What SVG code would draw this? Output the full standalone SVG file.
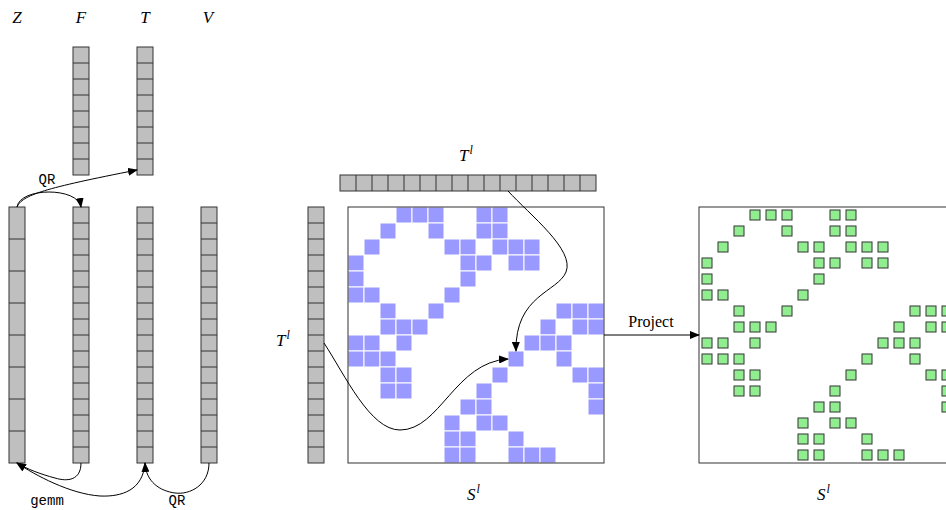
<svg xmlns="http://www.w3.org/2000/svg" width="946" height="510" viewBox="0 0 946 510">
<style>
.col{fill:#bfbfbf;stroke:#333;stroke-width:1}
.sep{stroke:#333;stroke-width:1;fill:none}
.b{fill:#9999ff;stroke:#fff;stroke-width:1}
.g{fill:#90ee90;stroke:#333;stroke-width:1}
.box{fill:none;stroke:#333;stroke-width:1}
.math{font-family:"Liberation Serif",serif;font-style:italic;font-size:17px;fill:#000}
.sup{font-family:"Liberation Serif",serif;font-style:italic;font-size:12px}
.tt{font-family:"Liberation Mono",monospace;font-size:14px;fill:#000}
.rm{font-family:"Liberation Serif",serif;font-size:16px;fill:#000}
.conn{fill:none;stroke:#000;stroke-width:1}
</style>
<defs>
<marker id="ah" markerWidth="10" markerHeight="8" refX="9" refY="4" orient="auto" markerUnits="userSpaceOnUse">
<path d="M0,0 L10,4 L0,8 Z" fill="#000"/>
</marker>
</defs>

<g id="labels-top">
<text class="math" x="17" y="23" text-anchor="middle">Z</text>
<text class="math" x="81" y="23" text-anchor="middle">F</text>
<text class="math" x="145" y="23" text-anchor="middle">T</text>
<text class="math" x="208" y="23" text-anchor="middle">V</text>
</g>

<g id="F-top">
<rect class="col" x="73" y="47" width="16" height="128"/>
<path class="sep" d="M73,63h16M73,79h16M73,95h16M73,111h16M73,127h16M73,143h16M73,159h16"/>
</g>
<g id="T-top">
<rect class="col" x="137" y="47" width="16" height="128"/>
<path class="sep" d="M137,63h16M137,79h16M137,95h16M137,111h16M137,127h16M137,143h16M137,159h16"/>
</g>

<g id="Z">
<rect class="col" x="9" y="207" width="16" height="256"/>
<path class="sep" d="M9,239h16M9,271h16M9,303h16M9,335h16M9,367h16M9,399h16M9,431h16"/>
</g>
<g id="F">
<rect class="col" x="73" y="207" width="16" height="256"/>
<path class="sep" d="M73,223h16M73,239h16M73,255h16M73,271h16M73,287h16M73,303h16M73,319h16M73,335h16M73,351h16M73,367h16M73,383h16M73,399h16M73,415h16M73,431h16M73,447h16"/>
</g>
<g id="T">
<rect class="col" x="137" y="207" width="16" height="256"/>
<path class="sep" d="M137,223h16M137,239h16M137,255h16M137,271h16M137,287h16M137,303h16M137,319h16M137,335h16M137,351h16M137,367h16M137,383h16M137,399h16M137,415h16M137,431h16M137,447h16"/>
</g>
<g id="V">
<rect class="col" x="201" y="207" width="16" height="256"/>
<path class="sep" d="M201,223h16M201,239h16M201,255h16M201,271h16M201,287h16M201,303h16M201,319h16M201,335h16M201,351h16M201,367h16M201,383h16M201,399h16M201,415h16M201,431h16M201,447h16"/>
</g>

<g id="Tl-vertical">
<rect class="col" x="308" y="207" width="16" height="256"/>
<path class="sep" d="M308,223h16M308,239h16M308,255h16M308,271h16M308,287h16M308,303h16M308,319h16M308,335h16M308,351h16M308,367h16M308,383h16M308,399h16M308,415h16M308,431h16M308,447h16"/>
<text class="math" x="276" y="346">T<tspan class="sup" dx="1" dy="-7">l</tspan></text>
</g>
<g id="Tl-horizontal">
<rect class="col" x="340" y="175" width="256" height="16"/>
<path class="sep" d="M356,175v16M372,175v16M388,175v16M404,175v16M420,175v16M436,175v16M452,175v16M468,175v16M484,175v16M500,175v16M516,175v16M532,175v16M548,175v16M564,175v16M580,175v16"/>
<text class="math" x="459" y="161">T<tspan class="sup" dx="1" dy="-7">l</tspan></text>
</g>

<g id="S-sparse">
<g transform="translate(348,207)">
<rect class="b" x="48" y="0" width="16" height="16"/><rect class="b" x="64" y="0" width="16" height="16"/><rect class="b" x="80" y="0" width="16" height="16"/><rect class="b" x="128" y="0" width="16" height="16"/><rect class="b" x="144" y="0" width="16" height="16"/>
<rect class="b" x="32" y="16" width="16" height="16"/><rect class="b" x="80" y="16" width="16" height="16"/><rect class="b" x="128" y="16" width="16" height="16"/><rect class="b" x="144" y="16" width="16" height="16"/>
<rect class="b" x="16" y="32" width="16" height="16"/><rect class="b" x="96" y="32" width="16" height="16"/><rect class="b" x="112" y="32" width="16" height="16"/><rect class="b" x="144" y="32" width="16" height="16"/><rect class="b" x="160" y="32" width="16" height="16"/><rect class="b" x="176" y="32" width="16" height="16"/>
<rect class="b" x="0" y="48" width="16" height="16"/><rect class="b" x="112" y="48" width="16" height="16"/><rect class="b" x="128" y="48" width="16" height="16"/><rect class="b" x="160" y="48" width="16" height="16"/><rect class="b" x="176" y="48" width="16" height="16"/>
<rect class="b" x="0" y="64" width="16" height="16"/><rect class="b" x="112" y="64" width="16" height="16"/>
<rect class="b" x="0" y="80" width="16" height="16"/><rect class="b" x="16" y="80" width="16" height="16"/><rect class="b" x="96" y="80" width="16" height="16"/>
<rect class="b" x="32" y="96" width="16" height="16"/><rect class="b" x="80" y="96" width="16" height="16"/><rect class="b" x="208" y="96" width="16" height="16"/><rect class="b" x="224" y="96" width="16" height="16"/><rect class="b" x="240" y="96" width="16" height="16"/>
<rect class="b" x="32" y="112" width="16" height="16"/><rect class="b" x="48" y="112" width="16" height="16"/><rect class="b" x="64" y="112" width="16" height="16"/><rect class="b" x="192" y="112" width="16" height="16"/><rect class="b" x="224" y="112" width="16" height="16"/><rect class="b" x="240" y="112" width="16" height="16"/>
<rect class="b" x="0" y="128" width="16" height="16"/><rect class="b" x="16" y="128" width="16" height="16"/><rect class="b" x="48" y="128" width="16" height="16"/><rect class="b" x="176" y="128" width="16" height="16"/><rect class="b" x="192" y="128" width="16" height="16"/><rect class="b" x="208" y="128" width="16" height="16"/>
<rect class="b" x="0" y="144" width="16" height="16"/><rect class="b" x="16" y="144" width="16" height="16"/><rect class="b" x="32" y="144" width="16" height="16"/><rect class="b" x="160" y="144" width="16" height="16"/><rect class="b" x="208" y="144" width="16" height="16"/>
<rect class="b" x="32" y="160" width="16" height="16"/><rect class="b" x="48" y="160" width="16" height="16"/><rect class="b" x="144" y="160" width="16" height="16"/><rect class="b" x="224" y="160" width="16" height="16"/><rect class="b" x="240" y="160" width="16" height="16"/>
<rect class="b" x="32" y="176" width="16" height="16"/><rect class="b" x="48" y="176" width="16" height="16"/><rect class="b" x="128" y="176" width="16" height="16"/><rect class="b" x="240" y="176" width="16" height="16"/>
<rect class="b" x="112" y="192" width="16" height="16"/><rect class="b" x="128" y="192" width="16" height="16"/><rect class="b" x="240" y="192" width="16" height="16"/>
<rect class="b" x="96" y="208" width="16" height="16"/><rect class="b" x="128" y="208" width="16" height="16"/><rect class="b" x="144" y="208" width="16" height="16"/>
<rect class="b" x="96" y="224" width="16" height="16"/><rect class="b" x="112" y="224" width="16" height="16"/><rect class="b" x="160" y="224" width="16" height="16"/>
<rect class="b" x="96" y="240" width="16" height="16"/><rect class="b" x="112" y="240" width="16" height="16"/><rect class="b" x="160" y="240" width="16" height="16"/><rect class="b" x="176" y="240" width="16" height="16"/><rect class="b" x="192" y="240" width="16" height="16"/>
</g>
<rect class="box" x="348" y="207" width="256" height="256"/>
<text class="math" x="467" y="500">S<tspan class="sup" dx="1" dy="-7">l</tspan></text>
</g>

<g id="S-projected">
<g transform="translate(702,210)">
<rect class="g" x="48" y="0" width="10" height="10"/><rect class="g" x="64" y="0" width="10" height="10"/><rect class="g" x="80" y="0" width="10" height="10"/><rect class="g" x="128" y="0" width="10" height="10"/><rect class="g" x="144" y="0" width="10" height="10"/>
<rect class="g" x="32" y="16" width="10" height="10"/><rect class="g" x="80" y="16" width="10" height="10"/><rect class="g" x="128" y="16" width="10" height="10"/><rect class="g" x="144" y="16" width="10" height="10"/>
<rect class="g" x="16" y="32" width="10" height="10"/><rect class="g" x="96" y="32" width="10" height="10"/><rect class="g" x="112" y="32" width="10" height="10"/><rect class="g" x="144" y="32" width="10" height="10"/><rect class="g" x="160" y="32" width="10" height="10"/><rect class="g" x="176" y="32" width="10" height="10"/>
<rect class="g" x="0" y="48" width="10" height="10"/><rect class="g" x="112" y="48" width="10" height="10"/><rect class="g" x="128" y="48" width="10" height="10"/><rect class="g" x="160" y="48" width="10" height="10"/><rect class="g" x="176" y="48" width="10" height="10"/>
<rect class="g" x="0" y="64" width="10" height="10"/><rect class="g" x="112" y="64" width="10" height="10"/>
<rect class="g" x="0" y="80" width="10" height="10"/><rect class="g" x="16" y="80" width="10" height="10"/><rect class="g" x="96" y="80" width="10" height="10"/>
<rect class="g" x="32" y="96" width="10" height="10"/><rect class="g" x="80" y="96" width="10" height="10"/><rect class="g" x="208" y="96" width="10" height="10"/><rect class="g" x="224" y="96" width="10" height="10"/><rect class="g" x="240" y="96" width="10" height="10"/>
<rect class="g" x="32" y="112" width="10" height="10"/><rect class="g" x="48" y="112" width="10" height="10"/><rect class="g" x="64" y="112" width="10" height="10"/><rect class="g" x="192" y="112" width="10" height="10"/><rect class="g" x="224" y="112" width="10" height="10"/><rect class="g" x="240" y="112" width="10" height="10"/>
<rect class="g" x="0" y="128" width="10" height="10"/><rect class="g" x="16" y="128" width="10" height="10"/><rect class="g" x="48" y="128" width="10" height="10"/><rect class="g" x="176" y="128" width="10" height="10"/><rect class="g" x="192" y="128" width="10" height="10"/><rect class="g" x="208" y="128" width="10" height="10"/>
<rect class="g" x="0" y="144" width="10" height="10"/><rect class="g" x="16" y="144" width="10" height="10"/><rect class="g" x="32" y="144" width="10" height="10"/><rect class="g" x="160" y="144" width="10" height="10"/><rect class="g" x="208" y="144" width="10" height="10"/>
<rect class="g" x="32" y="160" width="10" height="10"/><rect class="g" x="48" y="160" width="10" height="10"/><rect class="g" x="144" y="160" width="10" height="10"/><rect class="g" x="224" y="160" width="10" height="10"/><rect class="g" x="240" y="160" width="10" height="10"/>
<rect class="g" x="32" y="176" width="10" height="10"/><rect class="g" x="48" y="176" width="10" height="10"/><rect class="g" x="128" y="176" width="10" height="10"/><rect class="g" x="240" y="176" width="10" height="10"/>
<rect class="g" x="112" y="192" width="10" height="10"/><rect class="g" x="128" y="192" width="10" height="10"/><rect class="g" x="240" y="192" width="10" height="10"/>
<rect class="g" x="96" y="208" width="10" height="10"/><rect class="g" x="128" y="208" width="10" height="10"/><rect class="g" x="144" y="208" width="10" height="10"/>
<rect class="g" x="96" y="224" width="10" height="10"/><rect class="g" x="112" y="224" width="10" height="10"/><rect class="g" x="160" y="224" width="10" height="10"/>
<rect class="g" x="96" y="240" width="10" height="10"/><rect class="g" x="112" y="240" width="10" height="10"/><rect class="g" x="160" y="240" width="10" height="10"/><rect class="g" x="176" y="240" width="10" height="10"/><rect class="g" x="192" y="240" width="10" height="10"/>
</g>
<rect class="box" x="699" y="207" width="256" height="256"/>
<text class="math" x="817" y="500">S<tspan class="sup" dx="1" dy="-7">l</tspan></text>
</g>

<g id="connectors">
<path class="conn" d="M17,207 C22,195 45,188 137,170" marker-end="url(#ah)"/>
<path class="conn" d="M17,207 C20,187 78,187 81,207" marker-end="url(#ah)"/>
<path class="conn" d="M81,463 C81,480 68,482 55,478 C40,474 27,469 17,463" marker-end="url(#ah)"/>
<path class="conn" d="M145,463 C143,490 122,497 100,496 C70,494 35,475 17,463" marker-end="url(#ah)"/>
<path class="conn" d="M209,463 C209,485 190,495 175,493 C160,491 146,482 145,463" marker-end="url(#ah)"/>
<path class="conn" d="M508,191 C530,215 575,250 566,272 C558,292 515,295 516,351" marker-end="url(#ah)"/>
<path class="conn" d="M324,343 C345,375 370,430 400,430 C440,430 455,362 508,359" marker-end="url(#ah)"/>
<path class="conn" d="M604,335 L699,335" stroke="#444" marker-end="url(#ah)"/>
<text class="tt" x="47" y="184" text-anchor="middle">QR</text>
<text class="tt" x="47" y="505" text-anchor="middle">gemm</text>
<text class="tt" x="177" y="505" text-anchor="middle">QR</text>
<text class="rm" x="651" y="327" text-anchor="middle">Project</text>
</g>
</svg>
